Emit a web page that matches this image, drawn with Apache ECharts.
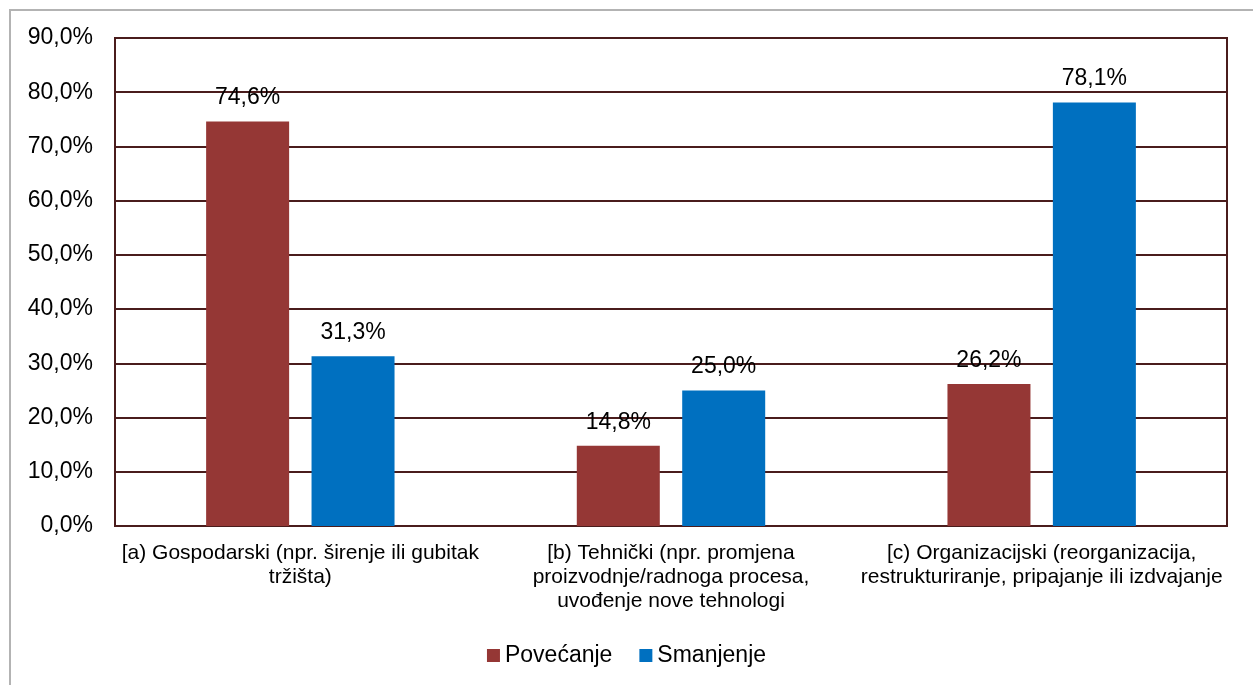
<!DOCTYPE html>
<html>
<head>
	<meta charset="utf-8">
	<title>chart</title>
	<style>
		html,body{margin:0;padding:0;background:#fff;}
		#frame{position:absolute;left:9px;top:9px;width:1244px;height:676px;border-top:2px solid #b3b3b3;border-left:2px solid #b3b3b3;box-sizing:border-box;}
		#main{position:absolute;left:0;top:0;width:1253px;height:685px;}
	</style>
</head>
<body>
	<div id="frame"></div>
	<div id="main"></div>
<script type="text/javascript" src="https://cdn.jsdelivr.net/npm/echarts@6/dist/echarts.min.js"></script>
<script type="text/javascript">
	// podaci
	var categories = [
		'[a) Gospodarski (npr. širenje ili gubitak\ntržišta)',
		'[b) Tehnički (npr. promjena\nproizvodnje/radnoga procesa,\nuvođenje nove tehnologi',
		'[c) Organizacijski (reorganizacija,\nrestrukturiranje, pripajanje ili izdvajanje'
	];
	var seriesNames = ['Povećanje', 'Smanjenje'];
	var povecanje = [74.6, 14.8, 26.2];
	var smanjenje = [31.3, 25.0, 78.1];
	var seriesColors = ['#953735', '#0070C0'];

	var lineColor = '#4a1c1c';
	var font = 'Liberation Sans, Arial, sans-serif';

	function pct(v){
		return v.toFixed(1).replace('.', ',') + '%';
	}

	var myChart = echarts.init(document.getElementById('main'));
	var option = {
		animation: false,
		textStyle: {fontFamily: font},
		grid: {
			left: 115,
			right: 26,
			top: 38,
			bottom: 159,
			show: true,
			borderColor: lineColor,
			borderWidth: 2
		},
		legend: {
			top: 639,
			left: 'center',
			itemWidth: 13,
			itemHeight: 13,
			itemGap: 27,
			icon: 'rect',
			textStyle: {fontSize: 23, color: '#000', fontFamily: font},
			data: seriesNames
		},
		xAxis: {
			type: 'category',
			data: categories,
			axisLine: {show: true, lineStyle: {color: lineColor, width: 2}},
			axisTick: {show: false},
			axisLabel: {
				interval: 0,
				color: '#000',
				fontSize: 21,
				lineHeight: 24,
				margin: 15,
				fontFamily: font
			}
		},
		yAxis: {
			type: 'value',
			min: 0,
			max: 90,
			interval: 10,
			axisLine: {show: true, lineStyle: {color: lineColor, width: 2}},
			axisTick: {show: false},
			splitLine: {lineStyle: {color: lineColor, width: 2}},
			axisLabel: {
				color: '#000',
				fontSize: 23,
				margin: 22,
				fontFamily: font,
				formatter: function(v){ return pct(v); }
			}
		},
		series: [
			{
				name: seriesNames[0],
				type: 'bar',
				data: povecanje,
				barWidth: 83,
				barGap: '27%',
				itemStyle: {color: seriesColors[0]},
				label: {
					show: true,
					position: 'top',
					distance: 12,
					color: '#000',
					fontSize: 23,
					fontFamily: font,
					formatter: function(p){ return pct(p.value); }
				}
			},
			{
				name: seriesNames[1],
				type: 'bar',
				data: smanjenje,
				barWidth: 83,
				barGap: '27%',
				itemStyle: {color: seriesColors[1]},
				label: {
					show: true,
					position: 'top',
					distance: 12,
					color: '#000',
					fontSize: 23,
					fontFamily: font,
					formatter: function(p){ return pct(p.value); }
				}
			}
		]
	};
	myChart.setOption(option);
</script>
</body>
</html>
